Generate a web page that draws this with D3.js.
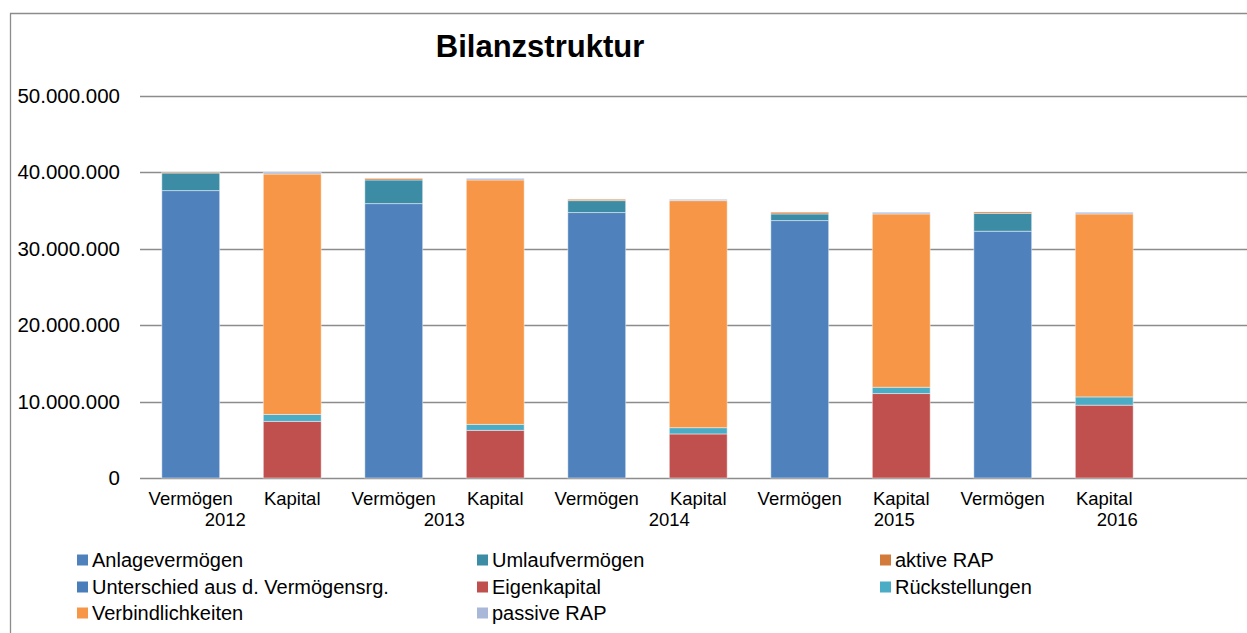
<!DOCTYPE html>
<html>
<head>
<meta charset="utf-8">
<script src="https://cdn.jsdelivr.net/npm/d3@7/dist/d3.min.js"></script>
<style>
  html, body { margin: 0; padding: 0; background: #fff; }
  svg { display: block; font-family: "Liberation Sans", Arial, sans-serif; }
</style>
</head>
<body>
<svg id="chart" width="1247" height="633"></svg>
<script>
// ---- data ----
const categories = ["Vermögen", "Kapital", "Vermögen", "Kapital", "Vermögen", "Kapital", "Vermögen", "Kapital", "Vermögen", "Kapital"];
const years = ["2012", "2013", "2014", "2015", "2016"];
const seriesNames = ["Anlagevermögen", "Umlaufvermögen", "aktive RAP", "Unterschied aus d. Vermögensrg.", "Eigenkapital", "Rückstellungen", "Verbindlichkeiten", "passive RAP"];
const anlagevermoegen   = [37570000, 0, 35870000, 0, 34700000, 0, 33650000, 0, 32260000, 0];
const umlaufvermoegen   = [2300000, 0, 3090000, 0, 1560000, 0, 870000, 0, 2340000, 0];
const aktiveRAP         = [130000, 0, 200000, 0, 170000, 0, 220000, 0, 180000, 0];
const unterschied       = [0, 0, 0, 0, 0, 0, 0, 0, 0, 0];
const eigenkapital      = [0, 7400000, 0, 6230000, 0, 5760000, 0, 11040000, 0, 9520000];
const rueckstellungen   = [0, 910000, 0, 780000, 0, 820000, 0, 820000, 0, 1080000];
const verbindlichkeiten = [0, 31430000, 0, 31950000, 0, 29680000, 0, 22660000, 0, 23920000];
const passiveRAP        = [0, 220000, 0, 210000, 0, 170000, 0, 220000, 0, 220000];
const yTicks = [0, 10000000, 20000000, 30000000, 40000000, 50000000];

// ---- styling ----
const colors = ["#4F81BD", "#3B8CA4", "#D27B3B", "#4A7EBB", "#C0504D", "#4BACC6", "#F79646", "#A9B8D8"];
const seriesValues = [anlagevermoegen, umlaufvermoegen, aktiveRAP, unterschied, eigenkapital, rueckstellungen, verbindlichkeiten, passiveRAP];

const W = 1247, H = 633;
const plot = { left: 140, right: 1155, top: 95.5, bottom: 478 };
const svg = d3.select("#chart");

// frame
svg.append("path")
  .attr("d", `M10.5,${H} V13.5 H${W}`)
  .attr("fill", "none").attr("stroke", "#8c8c8c").attr("stroke-width", 1.3);

// title
svg.append("text")
  .attr("x", 540).attr("y", 57)
  .attr("text-anchor", "middle")
  .attr("font-size", 31).attr("font-weight", "bold")
  .attr("fill", "#000")
  .text("Bilanzstruktur");

const keys = categories.map((c, i) => c + "|" + years[Math.floor(i / 2)]);
const x = d3.scaleBand().domain(keys).range([plot.left, plot.right]).paddingInner(0.43).paddingOuter(0.215);
const y = d3.scaleLinear().domain([0, 50000000]).range([plot.bottom, plot.top]);

const fmt = v => d3.format(",")(v).replace(/,/g, ".");

// gridlines
svg.append("g").selectAll("line").data(yTicks).join("line")
  .attr("x1", plot.left).attr("x2", W)
  .attr("y1", d => Math.round(y(d)) + 0.5).attr("y2", d => Math.round(y(d)) + 0.5)
  .attr("stroke", "#8c8c8c").attr("stroke-width", 1.4);

// y tick labels
svg.append("g").selectAll("text").data(yTicks).join("text")
  .attr("x", 120).attr("y", d => y(d))
  .attr("dy", "0.35em")
  .attr("text-anchor", "end")
  .attr("font-size", 20.5)
  .attr("fill", "#000")
  .text(d => fmt(d));

// stacked bars
const rows = keys.map((k, i) => {
  const o = { key: k };
  seriesNames.forEach((s, j) => o[s] = seriesValues[j][i]);
  return o;
});
const stack = d3.stack().keys(seriesNames)(rows);
const gBars = svg.append("g");
stack.forEach((layer, j) => {
  gBars.append("g").attr("fill", colors[j])
    .selectAll("rect").data(layer.filter(d => d[1] - d[0] > 0)).join("rect")
    .attr("x", d => x(d.data.key))
    .attr("width", x.bandwidth())
    .attr("y", d => y(d[1]))
    .attr("height", d => y(d[0]) - y(d[1]))
    .attr("stroke", "rgba(255,255,255,0.45)")
    .attr("stroke-width", 1);
});

// category labels
svg.append("g").selectAll("text").data(keys).join("text")
  .attr("x", d => x(d) + x.bandwidth() / 2)
  .attr("y", 505)
  .attr("text-anchor", "middle")
  .attr("font-size", 18.5)
  .attr("fill", "#000")
  .text((d, i) => categories[i]);

// year labels (offset relative to Kapital column, as in the original)
const yearShift = [-67, -51, -29, -7, 13];
svg.append("g").selectAll("text").data(years).join("text")
  .attr("x", (d, i) => x(keys[i * 2 + 1]) + x.bandwidth() / 2 + yearShift[i])
  .attr("y", 526)
  .attr("text-anchor", "middle")
  .attr("font-size", 18.5)
  .attr("fill", "#000")
  .text(d => d);

// legend
const legCols = [77, 477, 880];
const legRows = [560, 587, 613];
const leg = svg.append("g").selectAll("g").data(seriesNames).join("g")
  .attr("transform", (d, i) => `translate(${legCols[i % 3]},${legRows[Math.floor(i / 3)]})`);
leg.append("rect").attr("x", 0).attr("y", -5.5).attr("width", 11).attr("height", 11)
  .attr("fill", (d, i) => colors[i]);
leg.append("text").attr("x", 15).attr("y", 0).attr("dy", "0.35em")
  .attr("font-size", 20).attr("fill", "#000")
  .text(d => d);
</script>
</body>
</html>
